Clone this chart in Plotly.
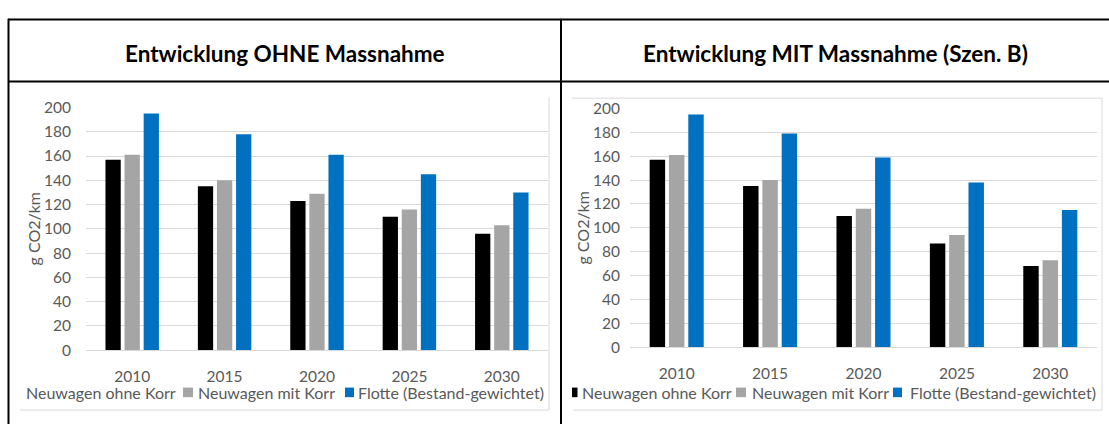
import plotly.graph_objects as go

W, H = 1109, 432

# ---- data -------------------------------------------------------------
years = ["2010", "2015", "2020", "2025", "2030"]
series_names = ["Neuwagen ohne Korr", "Neuwagen mit Korr", "Flotte (Bestand-gewichtet)"]
series_colors = ["#000000", "#A5A5A5", "#0070C0"]

# scenario without measure
ohne_neu_ohne_korr = [157, 135, 123, 110, 96]
ohne_neu_mit_korr = [161, 140, 129, 116, 103]
ohne_flotte = [195, 178, 161, 145, 130]

# scenario with measure (Szen. B)
mit_neu_ohne_korr = [157, 135, 110, 87, 68]
mit_neu_mit_korr = [161, 140, 116, 94, 73]
mit_flotte = [195, 179, 159, 138, 115]

panel_titles = ["Entwicklung OHNE Massnahme", "Entwicklung MIT Massnahme (Szen. B)"]
y_title = "g CO2/km"
y_ticks = [0, 20, 40, 60, 80, 100, 120, 140, 160, 180, 200]

FONT = "Lato"
TEXT_GRAY = "#595959"
GRID = "#D9D9D9"


def px(x):
    return x / W


def py(y):
    return 1 - y / H


fig = go.Figure()

panels = [
    ([ohne_neu_ohne_korr, ohne_neu_mit_korr, ohne_flotte], "x", "y"),
    ([mit_neu_ohne_korr, mit_neu_mit_korr, mit_flotte], "x2", "y2"),
]
for values, xa, ya in panels:
    for name, color, vals in zip(series_names, series_colors, values):
        fig.add_trace(go.Bar(
            x=years, y=vals, name=name, marker=dict(color=color, line=dict(width=0)),
            xaxis=xa, yaxis=ya, showlegend=False, hoverinfo="x+y+name",
        ))

axis_font = dict(family=FONT, size=15.5, color=TEXT_GRAY)
yaxis_common = dict(
    range=[0, 200], tickvals=y_ticks, showgrid=True, gridcolor=GRID, gridwidth=1,
    zeroline=False, showline=False, ticks="", tickfont=axis_font, fixedrange=True,
)
xaxis_common = dict(
    showline=True, linecolor=GRID, linewidth=1, ticks="", showgrid=False,
    tickfont=axis_font, fixedrange=True,
)

fig.update_layout(
    width=W, height=H, margin=dict(l=0, r=0, t=0, b=0),
    paper_bgcolor="white", plot_bgcolor="white",
    barmode="group", bargap=0.38, bargroupgap=0.2,
    showlegend=False,
    xaxis=dict(domain=[px(86), px(548)], anchor="y", ticklabelstandoff=12, **xaxis_common),
    yaxis=dict(domain=[py(355), py(101.7)], anchor="x", ticklabelstandoff=14, **yaxis_common),
    xaxis2=dict(domain=[px(630), px(1097)], anchor="y2", ticklabelstandoff=12, **xaxis_common),
    yaxis2=dict(domain=[py(352), py(102.7)], anchor="x2", ticklabelstandoff=9, **yaxis_common),
)

shapes = []
# table frame around the two panels
black = dict(color="black", width=2)
shapes += [
    dict(type="line", xref="paper", yref="paper", x0=px(8), x1=1, y0=py(10), y1=py(10), line=black),
    dict(type="line", xref="paper", yref="paper", x0=px(8), x1=1, y0=py(74.5), y1=py(74.5), line=black),
    dict(type="line", xref="paper", yref="paper", x0=px(8.5), x1=px(8.5), y0=py(9), y1=0, line=black),
    dict(type="line", xref="paper", yref="paper", x0=px(561), x1=px(561), y0=py(9), y1=0, line=black),
]
# chart-area outlines
light = dict(color=GRID, width=1)
shapes += [
    dict(type="line", xref="paper", yref="paper", x0=px(549), x1=px(549), y0=py(91), y1=py(417.5), line=light),
    dict(type="line", xref="paper", yref="paper", x0=px(20), x1=px(549), y0=py(417.5), y1=py(417.5), line=light),
    dict(type="line", xref="paper", yref="paper", x0=px(572), x1=px(1102), y0=py(92), y1=py(92), line=light),
    dict(type="line", xref="paper", yref="paper", x0=px(1102), x1=px(1102), y0=py(92), y1=py(417.5), line=light),
    dict(type="line", xref="paper", yref="paper", x0=px(573), x1=px(1102), y0=py(417.5), y1=py(417.5), line=light),
]

annotations = []
# panel headings
for title, cx in zip(panel_titles, [284.5, 835]):
    annotations.append(dict(
        text=f"<b>{title}</b>", x=px(cx), y=py(45), xref="paper", yref="paper",
        xanchor="center", yanchor="middle", showarrow=False,
        font=dict(family=FONT, size=22.5, color="black"),
    ))
# y-axis titles
for cx, cy in [(33, 228), (583, 227)]:
    annotations.append(dict(
        text=y_title, x=px(cx), y=py(cy), xref="paper", yref="paper",
        xanchor="center", yanchor="middle", showarrow=False, textangle=-90,
        font=dict(family=FONT, size=16, color=TEXT_GRAY),
    ))

# legends (key square + label); the left panel's first key is clipped off
legend_font = dict(family=FONT, size=16, color=TEXT_GRAY)
legend_y = 399
legend_layout = [
    # (key x0, key x1, label x) per series, per panel
    [(None, None, 24), (183, 193, 196), (345, 354, 356)],
    [(572, 577.5, 580), (736, 746, 750), (893, 902, 908)],
]
for items in legend_layout:
    for (k0, k1, tx), name, color in zip(items, series_names, series_colors):
        if k0 is not None:
            shapes.append(dict(
                type="rect", xref="paper", yref="paper",
                x0=px(k0), x1=px(k1), y0=py(legend_y + 5), y1=py(legend_y - 5),
                fillcolor=color, line=dict(width=0),
            ))
        annotations.append(dict(
            text=name, x=px(tx), y=py(legend_y), xref="paper", yref="paper",
            xanchor="left", yanchor="middle", showarrow=False, font=legend_font,
        ))

fig.update_layout(shapes=shapes, annotations=annotations)

fig.write_html("out.html")
